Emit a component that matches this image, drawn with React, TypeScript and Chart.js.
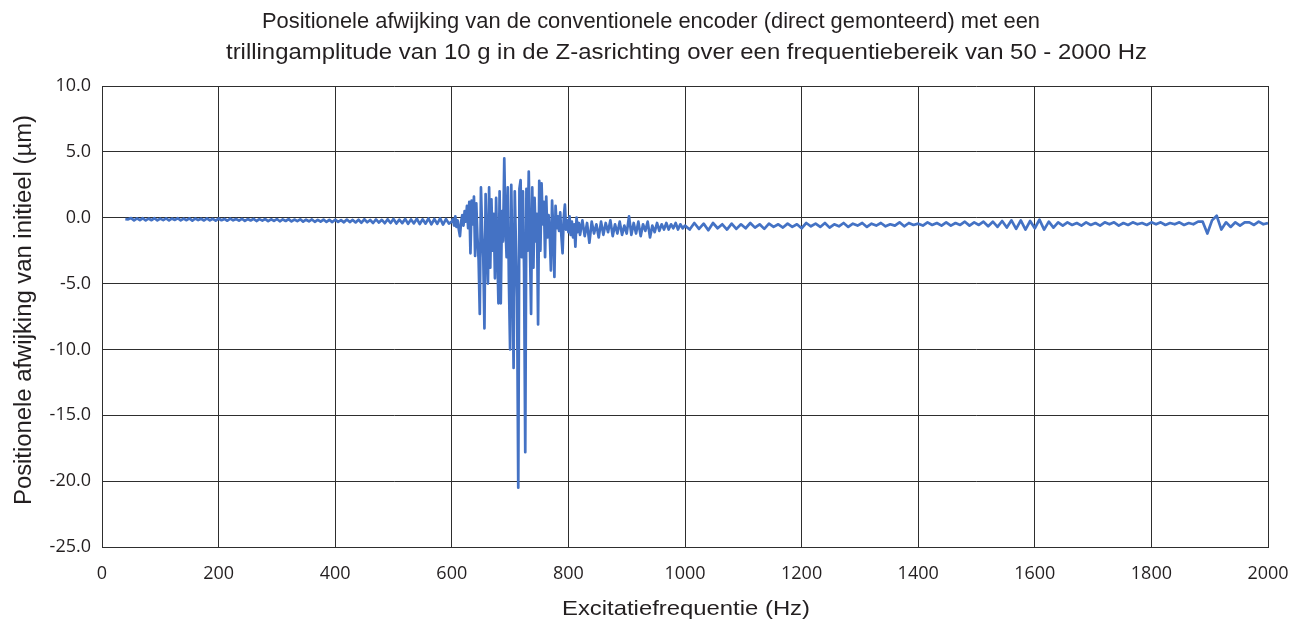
import React, { useEffect, useRef } from "react";
import { Chart, registerables } from "chart.js";

Chart.register(...registerables);

// ---------- Text ----------
const TITLE_LINE_1 = "Positionele afwijking van de conventionele encoder (direct gemonteerd) met een";
const TITLE_LINE_2 = "trillingamplitude van 10 g in de Z-asrichting over een frequentiebereik van 50 - 2000 Hz";
const X_TITLE = "Excitatiefrequentie (Hz)";
const Y_TITLE = "Positionele afwijking van initieel (µm)";

// ---------- Axis ticks ----------
const X_MIN = 0;
const X_MAX = 2000;
const X_STEP = 200;
const Y_MIN = -25;
const Y_MAX = 10;
const Y_STEP = 5;

// ---------- Data (frequency grid start / step, deviation values in µm) ----------
const lowStart = 40;
const lowStep = 5;
const lowValues = [
  -0.1, -0.12, -0.03, -0.2, -0.05, -0.18, -0.04, -0.21, -0.06, -0.19,
  -0.04, -0.2, -0.07, -0.18, -0.05, -0.21, -0.06, -0.17, -0.04, -0.2,
  -0.07, -0.19, -0.05, -0.22, -0.06, -0.18, -0.08, -0.21, -0.05, -0.2,
  -0.08, -0.22, -0.06, -0.19, -0.09, -0.23, -0.07, -0.2, -0.1, -0.22,
  -0.08, -0.24, -0.1, -0.21, -0.09, -0.25, -0.11, -0.22, -0.1, -0.26,
  -0.12, -0.24, -0.1, -0.27, -0.13, -0.25, -0.11, -0.28, -0.14, -0.26,
  -0.12, -0.3, -0.15, -0.27, -0.13, -0.31, -0.16, -0.29, -0.14, -0.32,
  -0.16, -0.33, -0.15, -0.31, -0.18, -0.35, -0.14, -0.33, -0.17, -0.36,
  -0.15, -0.38, -0.12, -0.35, -0.17, -0.4, -0.13, -0.37, -0.16, -0.42,
  -0.12, -0.4, -0.1, -0.44, -0.15, -0.41, -0.09, -0.46, -0.13, -0.43,
  -0.08, -0.48, -0.12, -0.45, -0.06, -0.5, -0.1, -0.47, -0.05, -0.52,
  -0.1, -0.45,
];

const burstStart = 600;
const burstStep = 2;
const burstValues = [
  -0.3, -0.1, -0.6, 0.1, -0.7, -0.2, -0.9, -1.4, -0.3, 0.2,
  -0.6, 0.5, -0.3, 0.9, -0.8, 1.2, -2.7, 1.3, -0.5, 1.6,
  -2.9, 1.1, -1.5, -3.2, -7.3, 2.3, -1.0, -3.0, -8.4, 1.8,
  -2.2, -5.0, 2.3, -3.8, 1.4, -2.5, 0.3, -4.6, 1.5, -2.4,
  -6.5, 2.0, -6.5, 0.5, -1.8, 4.5, -0.5, -3.0, 2.3, -5.0,
  -10.0, 2.5, -3.5, -11.4, 2.0, -2.0, -6.0, -20.5, 2.2, 2.85,
  -3.0, 2.0, -4.0, -17.8, 2.2, -2.5, 3.5, -2.0, -7.3, 2.3,
  -3.8, 1.5, -1.8, 0.3, -8.1, 2.8, -2.5, 2.6, -0.5, 1.2,
  -3.0, 1.6, -1.5, 0.2, -1.2, -4.0, 1.3, -1.0, -4.5, 0.9,
  -0.8, 0.1, -1.0, 0.4, -1.4, -2.7, 0.0, 1.0, -0.9, -0.2,
  -1.1, 0.1, -1.3, -0.3, -1.5, -0.5, -2.2, 0.0, -1.1, -0.4,
  -1.3,
];

const tailStart = 824;
const tailStep = 4;
const tailValues = [
  -0.2, -1.4, -0.4, -1.9, -0.3, -1.2, -0.5, -1.5, -0.3, -1.3,
  -0.4, -1.1, -0.2, -1.4, -0.5, -1.2, -0.3, -1.3, -0.6, -1.2,
  0.1, -1.3, -0.4, -1.2, -0.3, -1.4, -0.5, -1.0, -0.3, -1.5,
  -0.6, -1.1, -0.4, -1.0, -0.5, -0.9, -0.4, -0.9, -0.5, -0.8,
  -0.4, -0.9, -0.5, -0.8, -0.6,
];

const highStart = 1008;
const highStep = 8;
const highValues = [
  -0.9, -0.4, -0.85, -0.45, -0.95, -0.4, -0.8, -0.5, -0.9, -0.45,
  -0.85, -0.5, -0.8, -0.4, -0.75, -0.5, -0.85, -0.45, -0.7, -0.5,
  -0.75, -0.45, -0.7, -0.5, -0.8, -0.4, -0.65, -0.45, -0.7, -0.4,
  -0.75, -0.5, -0.65, -0.4, -0.7, -0.45, -0.6, -0.4, -0.7, -0.45,
  -0.6, -0.4, -0.65, -0.5, -0.6, -0.35, -0.65, -0.4, -0.55, -0.45,
  -0.6, -0.35, -0.55, -0.4, -0.6, -0.35, -0.6, -0.4, -0.55, -0.3,
  -0.6, -0.35, -0.55, -0.3, -0.65, -0.3, -0.7, -0.25, -0.75, -0.2,
  -0.85, -0.2, -0.9, -0.25, -0.8, -0.15, -0.9, -0.3, -0.75, -0.35,
  -0.6, -0.35, -0.55, -0.4, -0.6, -0.35, -0.55, -0.4, -0.6, -0.35,
  -0.5, -0.35, -0.6, -0.4, -0.55, -0.35, -0.5, -0.4, -0.55, -0.35,
  -0.5, -0.35, -0.55, -0.4, -0.5, -0.35, -0.55, -0.4, -0.5, -0.3,
  -0.3, -1.2, -0.2, 0.15, -0.9, -0.35, -0.7, -0.35, -0.6, -0.35,
  -0.35, -0.55, -0.3, -0.5, -0.4,
];

const segments: [number, number, number[]][] = [
  [lowStart, lowStep, lowValues],
  [burstStart, burstStep, burstValues],
  [tailStart, tailStep, tailValues],
  [highStart, highStep, highValues],
];

function buildPoints() {
  const pts: { x: number; y: number }[] = [];
  for (const [start, step, vals] of segments) {
    vals.forEach((v, i) => pts.push({ x: start + i * step, y: v }));
  }
  return pts;
}

const TEXT_COLOR = "#231f20";
const GRID_COLOR = "#2e2e2e";
const LINE_COLOR = "#4472C4";

function drawFitted(
  ctx: CanvasRenderingContext2D,
  text: string,
  cx: number,
  baseline: number,
  targetWidth: number,
  font: string,
  rotate = false
) {
  ctx.save();
  ctx.font = font;
  ctx.fillStyle = TEXT_COLOR;
  ctx.textAlign = "center";
  ctx.textBaseline = "alphabetic";
  const w = ctx.measureText(text).width;
  const sx = targetWidth / w;
  if (rotate) {
    ctx.translate(baseline, cx);
    ctx.rotate(-Math.PI / 2);
  } else {
    ctx.translate(cx, baseline);
  }
  ctx.scale(sx, 1);
  ctx.fillText(text, 0, 0);
  ctx.restore();
}

const textPlugin = {
  id: "customTexts",
  afterDraw(chart: any) {
    const ctx = chart.ctx as CanvasRenderingContext2D;
    const f = '22px "Liberation Sans", Arial, sans-serif';
    drawFitted(ctx, TITLE_LINE_1, 651, 28, 778, f);
    drawFitted(ctx, TITLE_LINE_2, 686.5, 59, 921, f);
    drawFitted(ctx, X_TITLE, 686, 615, 248, '21px "Liberation Sans", Arial, sans-serif');
    drawFitted(ctx, Y_TITLE, 310, 31, 390, '23px "Liberation Sans", Arial, sans-serif', true);
  },
};

export default function App() {
  const ref = useRef<HTMLCanvasElement | null>(null);

  useEffect(() => {
    if (!ref.current) return;
    const chart = new Chart(ref.current, {
      type: "line",
      data: {
        datasets: [
          {
            data: buildPoints(),
            borderColor: LINE_COLOR,
            borderWidth: 2.7,
            pointRadius: 0,
            tension: 0,
            fill: false,
            borderJoinStyle: "round",
          },
        ],
      },
      options: {
        animation: false,
        responsive: false,
        events: [],
        layout: { padding: { top: 86, right: 34, left: 0, bottom: 0 } },
        plugins: { legend: { display: false }, tooltip: { enabled: false }, title: { display: false } },
        scales: {
          x: {
            type: "linear",
            min: X_MIN,
            max: X_MAX,
            afterFit: (s: any) => {
              s.height = 75;
              s.paddingLeft = 0;
              s.paddingRight = 0;
            },
            ticks: {
              stepSize: X_STEP,
              color: TEXT_COLOR,
              padding: 16,
              maxRotation: 0,
              font: { family: '"Open Sans", sans-serif', size: 18 },
              callback: (v: any) => String(v),
            },
            grid: { color: GRID_COLOR, lineWidth: 1, drawTicks: false },
            border: { color: GRID_COLOR, width: 1 },
          },
          y: {
            min: Y_MIN,
            max: Y_MAX,
            afterFit: (s: any) => {
              s.width = 102;
            },
            ticks: {
              stepSize: Y_STEP,
              color: TEXT_COLOR,
              padding: 11,
              font: { family: '"Open Sans", sans-serif', size: 18 },
              callback: (v: any) => Number(v).toFixed(1),
            },
            grid: { color: GRID_COLOR, lineWidth: 1, drawTicks: false },
            border: { color: GRID_COLOR, width: 1 },
          },
        },
      },
      plugins: [textPlugin],
    });
    return () => chart.destroy();
  }, []);

  return (
    <div style={{ position: "absolute", left: 0, top: 0, width: 1302, height: 622, background: "#fff" }}>
      <canvas ref={ref} width={1302} height={622} style={{ display: "block" }} />
    </div>
  );
}
